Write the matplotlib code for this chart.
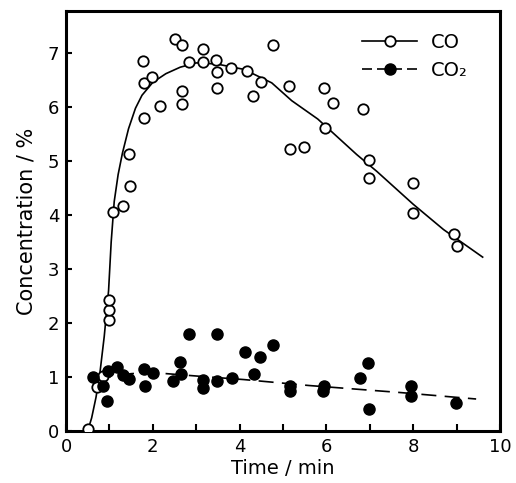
import matplotlib
matplotlib.use("Agg")
import matplotlib.pyplot as plt
from matplotlib.lines import Line2D

# measured points, CO (open circles)
co_t = [0.51, 0.71, 0.85, 0.98, 0.98, 1.00, 1.09, 1.32, 1.45, 1.47, 1.78, 1.80, 1.80,
        1.99, 2.16, 2.50, 2.67, 2.67, 2.67, 2.84, 3.16, 3.16, 3.46, 3.49, 3.49, 3.81,
        4.16, 4.30, 4.50, 4.78, 5.14, 5.16, 5.48, 5.94, 5.97, 6.16, 6.84, 6.97, 6.97,
        7.99, 7.99, 8.93, 9.00]
co_c = [0.04, 0.82, 1.01, 2.05, 2.24, 2.42, 4.06, 4.16, 5.14, 4.53, 6.86, 6.45, 5.79,
        6.56, 6.02, 7.27, 7.15, 6.30, 6.06, 6.83, 7.08, 6.83, 6.88, 6.66, 6.36, 6.73,
        6.67, 6.20, 6.46, 7.15, 6.40, 5.23, 5.27, 6.36, 5.62, 6.07, 5.96, 5.02, 4.69,
        4.60, 4.04, 3.65, 3.42]

# measured points, CO2 (filled circles)
co2_t = [0.63, 0.86, 0.95, 0.97, 1.17, 1.32, 1.46, 1.80, 1.82, 2.00, 2.47, 2.63, 2.66,
         2.83, 3.15, 3.15, 3.47, 3.48, 3.82, 4.12, 4.33, 4.47, 4.76, 5.15, 5.15, 5.94,
         5.91, 6.77, 6.95, 6.97, 7.95, 7.96, 8.99]
co2_c = [0.99, 0.84, 0.56, 1.11, 1.18, 1.04, 0.96, 1.15, 0.83, 1.08, 0.93, 1.27, 1.06,
         1.80, 0.95, 0.79, 1.80, 0.92, 0.98, 1.47, 1.06, 1.37, 1.60, 0.83, 0.73, 0.84,
         0.74, 0.98, 1.26, 0.40, 0.83, 0.64, 0.51]

# hand drawn trend lines
co_fit_t = [0.50, 0.59, 0.69, 0.78, 0.88, 0.98, 1.04, 1.11, 1.20, 1.30, 1.44, 1.60, 1.75,
            2.00, 2.30, 2.63, 3.00, 3.47, 4.10, 4.74, 5.20, 5.80, 6.70, 7.16, 8.00, 8.70, 9.60]
co_fit_c = [0.00, 0.24, 0.62, 1.07, 1.75, 2.60, 3.50, 4.25, 4.75, 5.15, 5.60, 5.98, 6.22,
            6.46, 6.62, 6.74, 6.82, 6.80, 6.70, 6.45, 6.12, 5.78, 5.12, 4.81, 4.20, 3.73, 3.22]

co2_fit_t = [0.70, 1.00, 1.50, 2.00, 3.10, 4.10, 5.60, 7.70, 9.45]
co2_fit_c = [0.93, 1.00, 1.06, 1.08, 1.01, 0.95, 0.84, 0.71, 0.59]

fig = plt.figure(figsize=(5.16, 4.83), dpi=100)
ax = fig.add_axes([0.128, 0.108, 0.841, 0.869])

ax.plot(co_fit_t, co_fit_c, color="black", lw=1.2, zorder=2)
ax.plot(co2_fit_t, co2_fit_c, color="black", lw=1.2, ls=(0, (9, 5)), zorder=2)
ax.plot(co_t, co_c, "o", ms=7.5, mfc="white", mec="black", mew=1.3, zorder=3)
ax.plot(co2_t, co2_c, "o", ms=8, mfc="black", mec="black", zorder=3)

ax.set_xlim(0, 10)
ax.set_ylim(0, 7.78)
ax.set_xticks(range(0, 11, 2))
ax.set_xticks(range(0, 11), minor=True)
ax.set_yticks(range(0, 8))
ax.tick_params(direction="in", length=5, width=1.5, labelsize=13, pad=5)
ax.tick_params(which="minor", direction="in", length=5, width=1.5)
ax.tick_params(axis="y", length=4)
for s in ax.spines.values():
    s.set_linewidth(2.2)

ax.set_xlabel("Time / min", fontsize=14, labelpad=2)
ax.set_ylabel("Concentration / %", fontsize=15, labelpad=8)

handles = [
    Line2D([], [], color="black", lw=1.2, marker="o", ms=7.5, mfc="white", mec="black", mew=1.3),
    Line2D([], [], color="black", lw=1.2, ls=(0, (6, 3)), marker="o", ms=8, mfc="black"),
]
ax.legend(handles, ["CO", "CO₂"], loc="upper right", frameon=False, fontsize=14,
          handlelength=2.8, handletextpad=0.7, labelspacing=0.45,
          bbox_to_anchor=(0.965, 0.99))

fig.savefig("out.png", dpi=100)
